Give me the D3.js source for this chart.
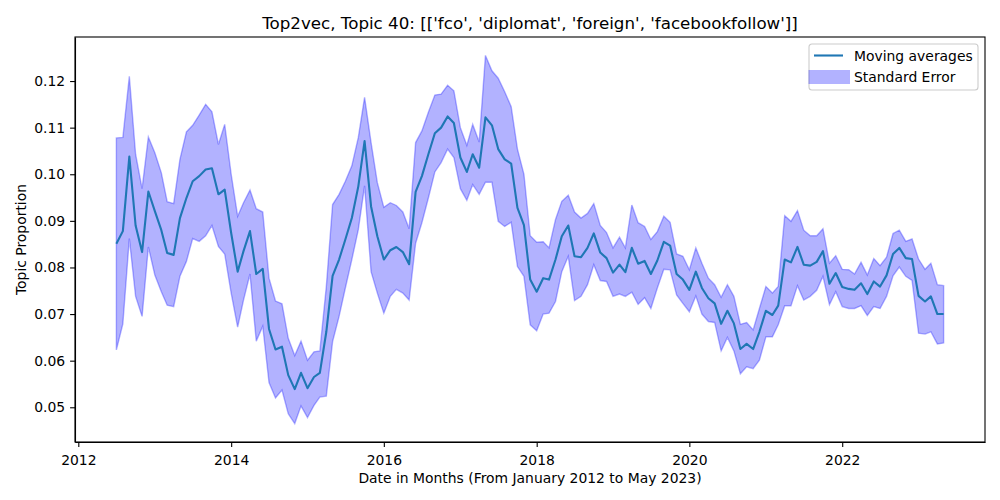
<!DOCTYPE html>
<html>
<head>
<meta charset="utf-8">
<script src="https://cdn.jsdelivr.net/npm/d3@7"></script>
<style>
  body { margin: 0; background: #fff; }
  svg { display: block; font-family: "DejaVu Sans", sans-serif; }
  .axis text { font-size: 13.9px; fill: #000; font-family: "DejaVu Sans", sans-serif; }
  .axis path, .axis line { stroke: #000; stroke-width: 1.1; }
</style>
</head>
<body>
<svg id="chart"></svg>
<script>
// Monthly moving averages, July 2012 .. May 2023
const firstMonth = new Date(2012, 6, 1);
const lastMonth = new Date(2023, 4, 1);

const movingAvg = [
  0.0851, 0.0878, 0.1038, 0.0890, 0.0833, 0.0963, 0.0921, 0.0880, 0.0831, 0.0827,
  0.0906, 0.0949, 0.0985, 0.0996, 0.1010, 0.1013, 0.0957, 0.0967, 0.0874, 0.0791,
  0.0835, 0.0878, 0.0786, 0.0797, 0.0668, 0.0624, 0.0630, 0.0569, 0.0539, 0.0574,
  0.0541, 0.0565, 0.0574, 0.0662, 0.0782, 0.0817, 0.0860, 0.0906, 0.0974, 0.1071,
  0.0931, 0.0867, 0.0817, 0.0837, 0.0844, 0.0833, 0.0807, 0.0962, 0.0996, 0.1043,
  0.1088, 0.1100, 0.1124, 0.1110, 0.1036, 0.1005, 0.1043, 0.1014, 0.1122, 0.1105,
  0.1054, 0.1032, 0.1023, 0.0928, 0.0891, 0.0774, 0.0748, 0.0777, 0.0774, 0.0817,
  0.0867, 0.0890, 0.0824, 0.0822, 0.0842, 0.0873, 0.0832, 0.0820, 0.0789, 0.0806,
  0.0790, 0.0842, 0.0808, 0.0814, 0.0786, 0.0815, 0.0855, 0.0847, 0.0786, 0.0774,
  0.0752, 0.0791, 0.0756, 0.0734, 0.0723, 0.0679, 0.0707, 0.0680, 0.0625, 0.0636,
  0.0625, 0.0662, 0.0707, 0.0698, 0.0718, 0.0817, 0.0811, 0.0844, 0.0806, 0.0804,
  0.0812, 0.0835, 0.0765, 0.0788, 0.0758, 0.0754, 0.0752, 0.0766, 0.0743, 0.0770,
  0.0759, 0.0783, 0.0829, 0.0842, 0.0820, 0.0818, 0.0739, 0.0727, 0.0738, 0.0700,
  0.0700
];

// upper / lower edge of the standard error band
const bandUpper = [
  0.1078, 0.1079, 0.1210, 0.1043, 0.0969, 0.1080, 0.1046, 0.1003, 0.0941, 0.0937,
  0.1032, 0.1091, 0.1105, 0.1127, 0.1150, 0.1134, 0.1064, 0.1107, 0.1000, 0.0910,
  0.0939, 0.0966, 0.0926, 0.0919, 0.0777, 0.0728, 0.0722, 0.0648, 0.0611, 0.0642,
  0.0601, 0.0619, 0.0621, 0.0759, 0.0935, 0.0957, 0.0985, 0.1018, 0.1079, 0.1165,
  0.1068, 0.0982, 0.0929, 0.0939, 0.0933, 0.0919, 0.0883, 0.1068, 0.1093, 0.1133,
  0.1170, 0.1172, 0.1191, 0.1179, 0.1100, 0.1062, 0.1107, 0.1069, 0.1255, 0.1222,
  0.1206, 0.1177, 0.1145, 0.1054, 0.1000, 0.0868, 0.0854, 0.0855, 0.0842, 0.0903,
  0.0942, 0.0955, 0.0919, 0.0906, 0.0916, 0.0937, 0.0890, 0.0875, 0.0842, 0.0865,
  0.0842, 0.0934, 0.0896, 0.0888, 0.0860, 0.0877, 0.0910, 0.0897, 0.0829, 0.0824,
  0.0795, 0.0842, 0.0809, 0.0777, 0.0763, 0.0736, 0.0763, 0.0738, 0.0678, 0.0682,
  0.0666, 0.0712, 0.0759, 0.0745, 0.0759, 0.0911, 0.0899, 0.0922, 0.0880, 0.0868,
  0.0868, 0.0883, 0.0809, 0.0825, 0.0796, 0.0795, 0.0786, 0.0811, 0.0784, 0.0819,
  0.0804, 0.0822, 0.0873, 0.0880, 0.0856, 0.0861, 0.0818, 0.0796, 0.0809, 0.0763,
  0.0761
];

const bandLower = [
  0.0623, 0.0679, 0.0862, 0.0738, 0.0695, 0.0844, 0.0784, 0.0748, 0.0719, 0.0716,
  0.0781, 0.0813, 0.0862, 0.0856, 0.0868, 0.0890, 0.0845, 0.0829, 0.0745, 0.0672,
  0.0730, 0.0786, 0.0642, 0.0674, 0.0553, 0.0520, 0.0537, 0.0486, 0.0465, 0.0503,
  0.0478, 0.0504, 0.0522, 0.0524, 0.0641, 0.0695, 0.0756, 0.0817, 0.0881, 0.0975,
  0.0791, 0.0745, 0.0702, 0.0738, 0.0753, 0.0745, 0.0730, 0.0852, 0.0896, 0.0949,
  0.1005, 0.1025, 0.1054, 0.1036, 0.0969, 0.0944, 0.0978, 0.0957, 0.0983, 0.0983,
  0.0899, 0.0888, 0.0897, 0.0802, 0.0781, 0.0677, 0.0664, 0.0700, 0.0702, 0.0727,
  0.0791, 0.0824, 0.0729, 0.0738, 0.0763, 0.0806, 0.0772, 0.0770, 0.0738, 0.0743,
  0.0738, 0.0747, 0.0721, 0.0735, 0.0712, 0.0756, 0.0796, 0.0795, 0.0741, 0.0723,
  0.0705, 0.0739, 0.0700, 0.0684, 0.0682, 0.0621, 0.0650, 0.0621, 0.0572, 0.0587,
  0.0583, 0.0601, 0.0651, 0.0651, 0.0677, 0.0718, 0.0718, 0.0761, 0.0730, 0.0738,
  0.0751, 0.0781, 0.0720, 0.0748, 0.0716, 0.0712, 0.0712, 0.0718, 0.0697, 0.0716,
  0.0712, 0.0738, 0.0782, 0.0801, 0.0781, 0.0772, 0.0659, 0.0657, 0.0662, 0.0636,
  0.0638
];

const yTicks = [0.05, 0.06, 0.07, 0.08, 0.09, 0.10, 0.11, 0.12];

const titleText = "Top2vec, Topic 40: [['fco', 'diplomat', 'foreign', 'facebookfollow']]";
const xLabel = "Date in Months (From January 2012 to May 2023)";
const yLabel = "Topic Proportion";
const legendLabels = ["Moving averages", "Standard Error"];

const width = 1000, height = 500;
const margin = { top: 37, right: 15, bottom: 58, left: 75 };
const innerWidth = width - margin.left - margin.right;
const innerHeight = height - margin.top - margin.bottom;

const months = d3.timeMonth.range(firstMonth, d3.timeMonth.offset(lastMonth, 1));
const rows = months.map((d, i) => ({
    date: d, mean: movingAvg[i], hi: bandUpper[i], lo: bandLower[i]
}));

const svg = d3.select('#chart')
    .attr('width', width)
    .attr('height', height);

const g = svg.append('g')
    .attr('transform', `translate(${margin.left},${margin.top})`);

// matplotlib-like 5% padding on both axes
const xExt = d3.extent(months);
const xPad = (xExt[1] - xExt[0]) * 0.05;
const xScale = d3.scaleTime()
    .domain([new Date(+xExt[0] - xPad), new Date(+xExt[1] + xPad)])
    .range([0, innerWidth]);

const yMin = d3.min(bandLower), yMax = d3.max(bandUpper);
const yPad = (yMax - yMin) * 0.05;
const yScale = d3.scaleLinear()
    .domain([yMin - yPad, yMax + yPad])
    .range([innerHeight, 0]);

// standard error band
const area = d3.area()
    .x(d => xScale(d.date))
    .y0(d => yScale(d.lo))
    .y1(d => yScale(d.hi));

g.append('path')
    .datum(rows)
    .attr('d', area)
    .attr('fill', 'blue')
    .attr('fill-opacity', 0.3)
    .attr('stroke', 'blue')
    .attr('stroke-opacity', 0.3)
    .attr('stroke-width', 1.4);

// moving average line
const line = d3.line()
    .x(d => xScale(d.date))
    .y(d => yScale(d.mean));

g.append('path')
    .datum(rows)
    .attr('d', line)
    .attr('fill', 'none')
    .attr('stroke', '#1f77b4')
    .attr('stroke-width', 2.1)
    .attr('stroke-linejoin', 'round');

// axes
g.append('g')
    .attr('class', 'axis')
    .attr('transform', `translate(0,${innerHeight})`)
    .call(d3.axisBottom(xScale)
        .ticks(d3.timeYear.every(2))
        .tickFormat(d3.timeFormat('%Y'))
        .tickSize(4.9)
        .tickPadding(4.9)
        .tickSizeOuter(0))
    .call(a => a.selectAll('text').attr('dy', '0.95em'));

g.append('g')
    .attr('class', 'axis')
    .call(d3.axisLeft(yScale)
        .tickValues(yTicks)
        .tickFormat(d3.format('.2f'))
        .tickSize(4.9)
        .tickPadding(4.9)
        .tickSizeOuter(0));

// frame
g.append('rect')
    .attr('width', innerWidth)
    .attr('height', innerHeight)
    .attr('fill', 'none')
    .attr('stroke', '#000')
    .attr('stroke-width', 1.1);

// titles
svg.append('text')
    .attr('x', margin.left + innerWidth / 2)
    .attr('y', 29)
    .attr('text-anchor', 'middle')
    .style('font-size', '16.7px')
    .text(titleText);

svg.append('text')
    .attr('x', margin.left + innerWidth / 2)
    .attr('y', 483)
    .attr('text-anchor', 'middle')
    .style('font-size', '13.9px')
    .text(xLabel);

svg.append('text')
    .attr('transform', `translate(26,${margin.top + innerHeight / 2}) rotate(-90)`)
    .attr('text-anchor', 'middle')
    .style('font-size', '13.9px')
    .text(yLabel);

// legend
const legend = svg.append('g').attr('transform', 'translate(809,44)');

legend.append('rect')
    .attr('width', 169)
    .attr('height', 46)
    .attr('rx', 3)
    .attr('fill', '#fff')
    .attr('fill-opacity', 0.8)
    .attr('stroke', '#cccccc')
    .attr('stroke-width', 1.1);

legend.append('line')
    .attr('x1', 5).attr('x2', 34)
    .attr('y1', 11.5).attr('y2', 11.5)
    .attr('stroke', '#1f77b4')
    .attr('stroke-width', 2.1);

legend.append('rect')
    .attr('x', -0.5).attr('y', 26)
    .attr('width', 41.5).attr('height', 14)
    .attr('fill', 'blue')
    .attr('fill-opacity', 0.3);

legend.selectAll('text.label')
    .data(legendLabels)
    .enter()
    .append('text')
    .attr('class', 'label')
    .attr('x', 45)
    .attr('y', (d, i) => 16.5 + i * 21.5)
    .style('font-size', '13.9px')
    .text(d => d);
</script>
</body>
</html>
